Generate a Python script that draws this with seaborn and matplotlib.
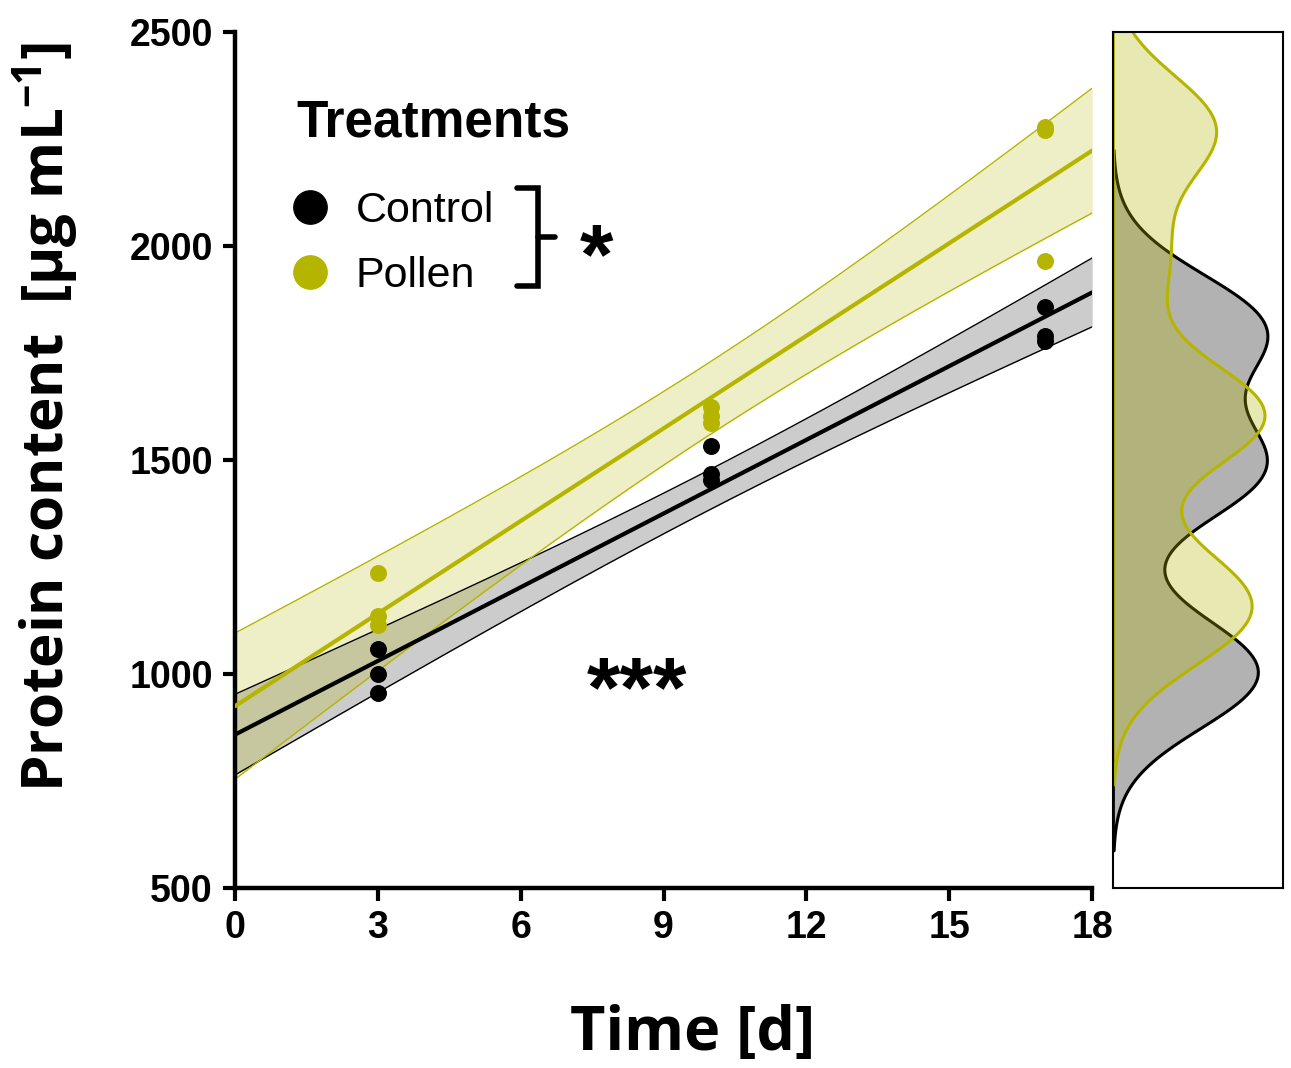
import numpy as np
import matplotlib
matplotlib.use("Agg")
import matplotlib.pyplot as plt
import seaborn as sns
from matplotlib.lines import Line2D

# data
days = [3, 3, 3, 10, 10, 10, 17, 17, 17]
control = [1058, 1000, 956, 1533, 1467, 1453, 1857, 1790, 1778]
pollen = [1236, 1135, 1115, 1624, 1603, 1587, 2278, 2272, 1965]
groups = ["Control", "Pollen"]
colors = {"Control": "#000000", "Pollen": "#b5b500"}
x_ticks = [0, 3, 6, 9, 12, 15, 18]
y_ticks = [500, 1000, 1500, 2000, 2500]

sns.set_style("ticks")
plt.rcParams["font.family"] = ["Liberation Sans", "DejaVu Sans"]
plt.rcParams["mathtext.fontset"] = "custom"
plt.rcParams["mathtext.rm"] = "Open Sans"
plt.rcParams["mathtext.bf"] = "Open Sans:bold"
for k in ["text.color", "axes.labelcolor", "xtick.color", "ytick.color", "axes.edgecolor"]:
    plt.rcParams[k] = "black"

fig = plt.figure(figsize=(12.91, 10.68), dpi=100)
ax = fig.add_axes([0.182, 0.1685, 0.664, 0.8015])
axm = fig.add_axes([0.862, 0.1685, 0.1317, 0.8015])

ax.set_xlim(0, 18)
ax.set_ylim(500, 2500)

t_crit = 2.365  # t(0.975, df=7)
xs = np.linspace(0, 18, 200)
band_alpha = {"Control": 0.2, "Pollen": 0.22}
for name, vals in zip(groups, [control, pollen]):
    c = colors[name]
    x = np.array(days, float)
    y = np.array(vals, float)
    b, a = np.polyfit(x, y, 1)
    resid = y - (a + b * x)
    s = np.sqrt((resid ** 2).sum() / (len(x) - 2))
    se = s * np.sqrt(1 / len(x) + (xs - x.mean()) ** 2 / ((x - x.mean()) ** 2).sum())
    fit = a + b * xs
    ax.fill_between(xs, fit - t_crit * se, fit + t_crit * se, color=c,
                    alpha=band_alpha[name], lw=0)
    ax.plot(xs, fit - t_crit * se, color=c, lw=1)
    ax.plot(xs, fit + t_crit * se, color=c, lw=1)
    sns.regplot(x=x, y=y, ax=ax, ci=None, truncate=False, color=c,
                scatter_kws={"s": 125, "alpha": 1, "zorder": 4},
                line_kws={"lw": 3.0, "zorder": 3})

ax.set_xticks(x_ticks)
ax.set_yticks(y_ticks)
for lab in ax.get_xticklabels() + ax.get_yticklabels():
    lab.set_fontweight("bold")
ax.tick_params(labelsize=27, width=3, length=9, pad=7)
for sp in ["left", "bottom"]:
    ax.spines[sp].set_linewidth(3.2)
sns.despine(ax=ax)

ax.set_xlabel("Time [d]", fontsize=44, fontweight="bold", family="Open Sans")
ax.set_ylabel(r"Protein content  [µg mL$\mathbf{^{-1}}$]", fontsize=42,
              fontweight="bold", family="Open Sans")
ax.xaxis.set_label_coords(0.534, -0.135)
ax.yaxis.set_label_coords(-0.18, 0.55)

# legend
ax.text(1.30, 2287, "Treatments", fontsize=37, fontweight="bold", ha="left", va="center")
handles = [Line2D([], [], marker="o", ls="", color=colors[g], markersize=24) for g in groups]
ax.legend(handles, groups, loc="upper left", bbox_to_anchor=(0.0125, 0.8595),
          frameon=False, fontsize=31, handletextpad=0.45, labelspacing=0.58,
          handlelength=1.2, borderpad=0.4)

# bracket and significance marks
bx = (517 - 235) / 857
bv = (538 - 235) / 857
bt = (888 - 188) / 856
bb = (888 - 286) / 856
bm = (bt + bb) / 2
ax.plot([bx, bv, bv, bx], [bt, bt, bb, bb], color="black", lw=4,
        transform=ax.transAxes, solid_joinstyle="miter", clip_on=False)
ax.plot([bv, bv + 0.02], [bm, bm], color="black", lw=4,
        transform=ax.transAxes, clip_on=False)
ax.text(7.6, 1965, "*", fontsize=62, fontweight="bold", ha="center", va="center")
ax.text(8.44, 953, "***", fontsize=62, fontweight="bold", ha="center", va="center")

# marginal densities
bw = {"Control": 0.54, "Pollen": 0.43}
for name, vals in zip(groups, [control, pollen]):
    c = colors[name]
    sns.kdeplot(y=vals, ax=axm, fill=True, bw_adjust=bw[name], color=c,
                alpha=0.3, linewidth=2.2, edgecolor=c)
axm.set_ylim(500, 2500)
xmax = max(p.get_paths()[0].vertices[:, 0].max() for p in axm.collections)
axm.set_xlim(0, xmax * 1.1)
axm.set_xticks([])
axm.set_yticks([])
axm.set_xlabel("")
axm.set_ylabel("")
for sp in axm.spines.values():
    sp.set_visible(True)
    sp.set_linewidth(1.5)
    sp.set_color("black")

fig.savefig("out.png", dpi=100)
